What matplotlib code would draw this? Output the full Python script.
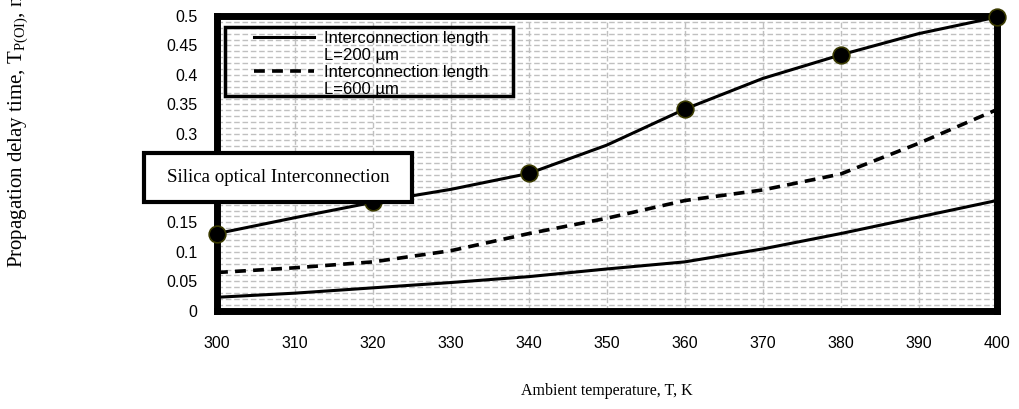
import numpy as np
import matplotlib.pyplot as plt
from matplotlib.lines import Line2D
from matplotlib.patches import Rectangle
from matplotlib.ticker import MultipleLocator

plt.rcParams['mathtext.fontset'] = 'custom'
plt.rcParams['mathtext.rm'] = 'Liberation Serif'

# ambient temperature, K
temp = [300, 310, 320, 330, 340, 350, 360, 370, 380, 390, 400]
# silica optical interconnection (curve with markers)
t_silica = [0.131, 0.158, 0.184, 0.206, 0.233, 0.281, 0.342, 0.394, 0.434, 0.470, 0.498]
temp_pts = [300, 320, 340, 360, 380, 400]
t_silica_pts = [0.131, 0.184, 0.233, 0.342, 0.434, 0.498]
# interconnection length L=200 um
t_200 = [0.023, 0.030, 0.039, 0.048, 0.058, 0.071, 0.083, 0.105, 0.131, 0.159, 0.187]
# interconnection length L=600 um
t_600 = [0.065, 0.073, 0.083, 0.102, 0.131, 0.157, 0.187, 0.205, 0.232, 0.284, 0.341]

W, H = 1019, 409
fig = plt.figure(figsize=(W / 100, H / 100), dpi=100)
ax = fig.add_axes([0.213, 0.240, 0.765, 0.721])

l200, = ax.plot(temp, t_200, color='black', linewidth=2.2)
l600, = ax.plot(temp, t_600, color='black', linewidth=2.6, linestyle=(0, (3, 2)))
ax.plot(temp, t_silica, color='black', linewidth=2.2)
ax.plot(temp_pts, t_silica_pts, linestyle='none', marker='o', markersize=12,
        markerfacecolor='black', markeredgecolor='#3a3a00', markeredgewidth=1.2,
        clip_on=False, zorder=5)

ax.set_xlim(300, 400)
ax.set_ylim(0, 0.5)
ax.xaxis.set_major_locator(MultipleLocator(10))
ax.yaxis.set_minor_locator(MultipleLocator(0.01))
ax.set_yticks(np.arange(0, 0.51, 0.05))
ax.set_yticklabels(['0', '0.05', '0.1', '0.15', '0.2', '0.25', '0.3', '0.35', '0.4', '0.45', '0.5'])

ax.grid(True, which='major', color='#c0c0c0', linestyle=(0, (4, 2)), linewidth=1.0)
ax.grid(True, which='minor', axis='y', color='#c0c0c0', linestyle=(0, (4, 2)), linewidth=1.0)
ax.set_axisbelow(True)

for side in ['left', 'bottom', 'top', 'right']:
    ax.spines[side].set_linewidth(5)

ax.tick_params(axis='both', which='both', length=0, labelsize=11.5)
ax.tick_params(axis='x', pad=18)
ax.tick_params(axis='y', pad=14)
for lab in ax.get_xticklabels() + ax.get_yticklabels():
    lab.set_family('Liberation Sans')

ax.set_xlabel('Ambient temperature, T, K', family='Liberation Serif', fontsize=11.5, labelpad=23)

fig.text(0.018, 1 - 268 / H, 'Propagation delay time, T$_{\\mathrm{P(OI)}}$, ns',
         rotation=90, ha='center', va='bottom', family='Liberation Serif', fontsize=15)

# legend: each label on two rows, handle beside the first row
blank = Line2D([], [], linestyle='none')
leg = ax.legend([l200, blank, l600, blank],
                ['Interconnection length', 'L=200 µm', 'Interconnection length', 'L=600 µm'],
                loc='upper left', bbox_to_anchor=(0.048, 0.95),
                prop={'family': 'Liberation Sans', 'size': 12},
                frameon=False, handlelength=3.6, handletextpad=0.6,
                labelspacing=0.12, borderpad=0.0, borderaxespad=0.0)
fig.add_artist(Rectangle((225 / W, 1 - 96 / H), 288 / W, 69 / H, transform=fig.transFigure,
                         fill=False, edgecolor='black', linewidth=2.5, zorder=6))

# boxed caption over the left part of the plot
fig.add_artist(Rectangle((144 / W, 1 - 202 / H), 268 / W, 49 / H, transform=fig.transFigure,
                         facecolor='white', edgecolor='black', linewidth=3, zorder=10))
fig.text(278 / W, 1 - 178 / H, 'Silica optical Interconnection', ha='center', va='center',
         family='Liberation Serif', fontsize=13.6, zorder=11)

fig.savefig('out.png', dpi=100)
